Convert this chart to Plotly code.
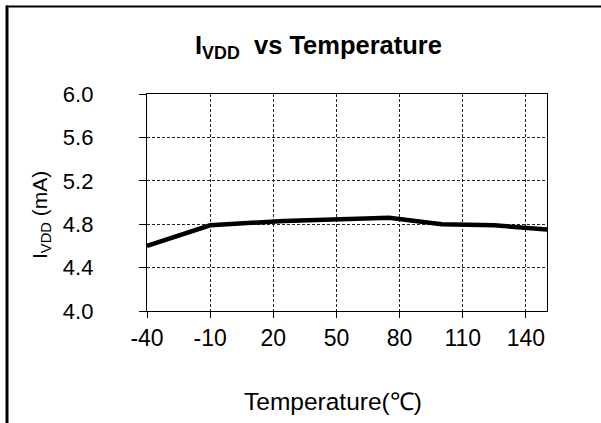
import plotly.graph_objects as go

temps = [-40, -10, 25, 50, 75, 100, 125, 150]
ivdd = [4.60, 4.79, 4.83, 4.84, 4.86, 4.80, 4.79, 4.75]
x_ticks = [-40, -10, 20, 50, 80, 110, 140]
y_ticks = [4.0, 4.4, 4.8, 5.2, 5.6, 6.0]

FONT = "Liberation Sans, Arial, sans-serif"
W, H = 601, 423
L, R, T, B = 147, 54, 94, 112
pw, ph = W - L - R, H - T - B

def px2x(px):
    return (px - L) / pw

def py2y(py):
    return (H - B - py) / ph

fig = go.Figure()
fig.add_trace(go.Scatter(x=temps, y=ivdd, mode="lines",
                         line=dict(color="black", width=4.5),
                         showlegend=False, hoverinfo="skip"))

border = [dict(type="line", xref="paper", yref="paper",
               x0=px2x(7), x1=px2x(7), y0=py2y(5.5), y1=py2y(423),
               line=dict(color="black", width=3), layer="above")]
edges = [6, 100, 200, 300, 400, 500, 601]
for a, b in zip(edges[:-1], edges[1:]):
    border.append(dict(type="line", xref="paper", yref="paper",
                       x0=px2x(a), x1=px2x(b), y0=py2y(6.5), y1=py2y(6.5),
                       line=dict(color="black", width=2), layer="above"))

fig.update_layout(
    width=W, height=H,
    margin=dict(l=L, r=R, t=T, b=B),
    paper_bgcolor="white", plot_bgcolor="white",
    font=dict(family=FONT, color="black", size=20),
    xaxis=dict(range=[-40, 150], tickvals=x_ticks, ticktext=[str(v) for v in x_ticks],
               showline=True, linecolor="black", linewidth=1, mirror=True,
               ticks="outside", ticklen=6, tickcolor="black", tickwidth=1,
               showgrid=True, gridcolor="#222", gridwidth=1, griddash="3px,2px",
               zeroline=False, tickfont=dict(size=23), ticklabelstandoff=0),
    yaxis=dict(range=[4.0, 6.0], tickvals=y_ticks,
               ticktext=[f"{v:.1f}&nbsp;&nbsp;" for v in y_ticks],
               showline=True, linecolor="black", linewidth=1, mirror=True,
               ticks="outside", ticklen=7, tickcolor="black", tickwidth=1,
               showgrid=True, gridcolor="#222", gridwidth=1, griddash="3px,2px",
               zeroline=False, tickfont=dict(size=22), ticklabelstandoff=29),
    shapes=border,
    annotations=[
        dict(text="<b>I<sub>VDD</sub>&nbsp;&nbsp;vs Temperature</b>", xref="paper", yref="paper",
             x=px2x(318), y=py2y(47), showarrow=False, font=dict(size=25.5),
             xanchor="center", yanchor="middle"),
        dict(text="Temperature(℃)", xref="paper", yref="paper",
             x=px2x(333), y=py2y(401), showarrow=False, font=dict(size=24.5),
             xanchor="center", yanchor="middle"),
        dict(text="I<sub>VDD</sub> (mA)", xref="paper", yref="paper",
             x=px2x(41), y=py2y(215), showarrow=False, font=dict(size=21),
             textangle=-90, xanchor="center", yanchor="middle"),
    ],
)

fig.write_html("out.html", config={"displayModeBar": False},
               post_script="document.body.style.margin='0';")
